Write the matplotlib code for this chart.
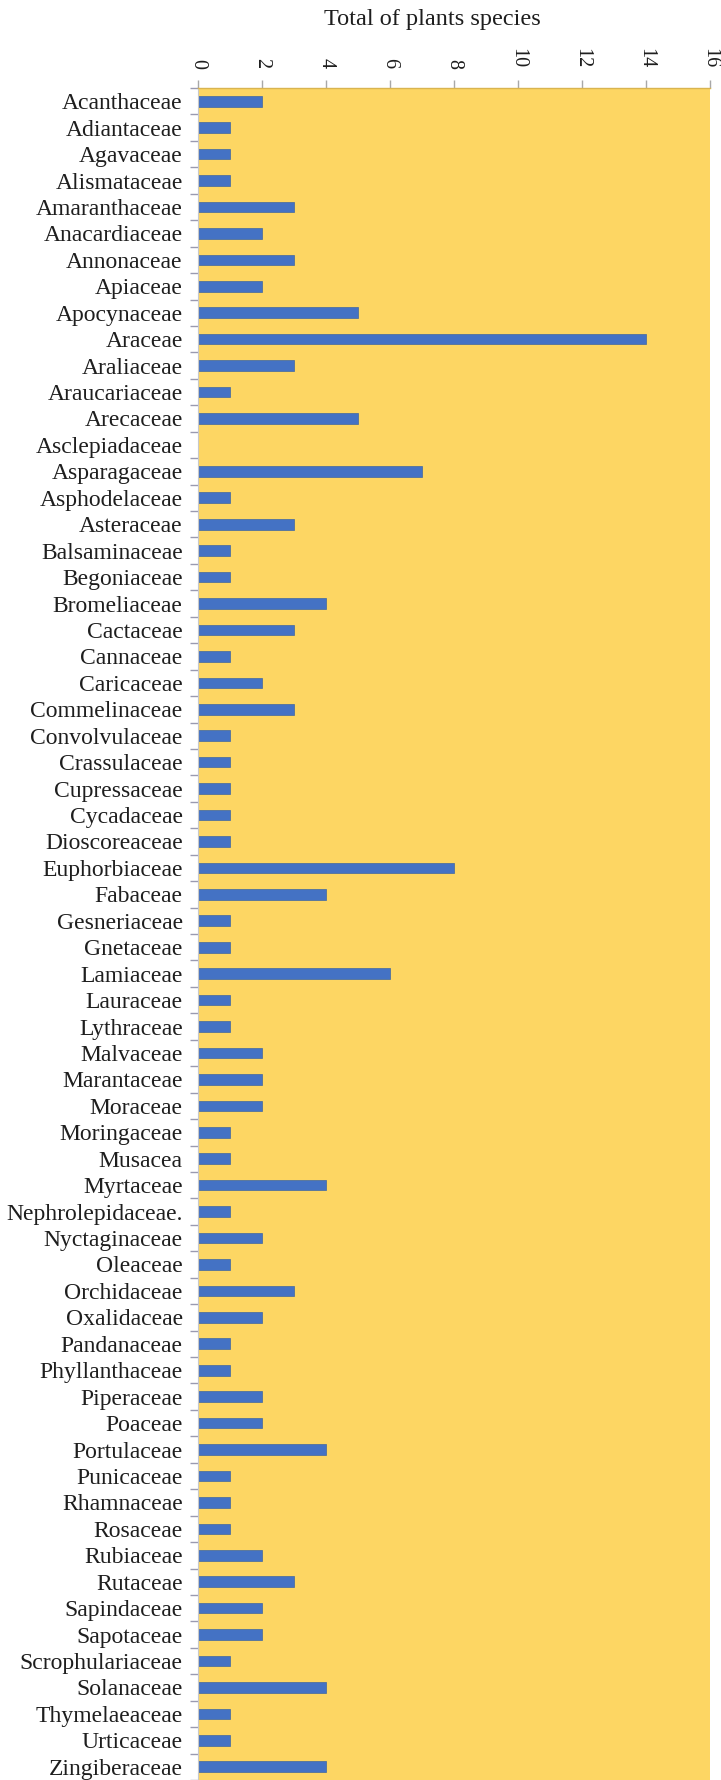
import matplotlib.pyplot as plt
import numpy as np

families = [
    "Acanthaceae", "Adiantaceae", "Agavaceae", "Alismataceae", "Amaranthaceae",
    "Anacardiaceae", "Annonaceae", "Apiaceae", "Apocynaceae", "Araceae",
    "Araliaceae", "Araucariaceae", "Arecaceae", "Asclepiadaceae", "Asparagaceae",
    "Asphodelaceae", "Asteraceae", "Balsaminaceae", "Begoniaceae", "Bromeliaceae",
    "Cactaceae", "Cannaceae", "Caricaceae", "Commelinaceae", "Convolvulaceae",
    "Crassulaceae", "Cupressaceae", "Cycadaceae", "Dioscoreaceae", "Euphorbiaceae",
    "Fabaceae", "Gesneriaceae", "Gnetaceae", "Lamiaceae", "Lauraceae",
    "Lythraceae", "Malvaceae", "Marantaceae", "Moraceae", "Moringaceae",
    "Musacea", "Myrtaceae", "Nephrolepidaceae.", "Nyctaginaceae", "Oleaceae",
    "Orchidaceae", "Oxalidaceae", "Pandanaceae", "Phyllanthaceae", "Piperaceae",
    "Poaceae", "Portulaceae", "Punicaceae", "Rhamnaceae", "Rosaceae",
    "Rubiaceae", "Rutaceae", "Sapindaceae", "Sapotaceae", "Scrophulariaceae",
    "Solanaceae", "Thymelaeaceae", "Urticaceae", "Zingiberaceae",
]
species = [
    2, 1, 1, 1, 3,
    2, 3, 2, 5, 14,
    3, 1, 5, 0, 7,
    1, 3, 1, 1, 4,
    3, 1, 2, 3, 1,
    1, 1, 1, 1, 8,
    4, 1, 1, 6, 1,
    1, 2, 2, 2, 1,
    1, 4, 1, 2, 1,
    3, 2, 1, 1, 2,
    2, 4, 1, 1, 1,
    2, 3, 2, 2, 1,
    4, 1, 1, 4,
]
x_ticks = [0, 2, 4, 6, 8, 10, 12, 14, 16]

plt.rcParams['font.family'] = ['Liberation Serif', 'DejaVu Serif']

fig = plt.figure(figsize=(7.21, 17.8), dpi=100)
ax = fig.add_axes([198 / 721, 0.0, 512 / 721, 1 - 88 / 1780])
ax.set_facecolor('#FDD663')

pos = np.arange(len(families))
ax.barh(pos, species, height=0.4, color='#4472C4', edgecolor='#41679F', linewidth=0.5)

ax.set_ylim(len(families) - 0.5, -0.5)
ax.set_xlim(0, 16)

# labels at the bar centres, tick marks on the category boundaries
ax.set_yticks(pos)
ax.set_yticklabels(families, fontsize=17, color='#1E1E1E')
ax.tick_params(axis='y', which='major', length=0, pad=11)
ax.set_yticks(np.arange(len(families) + 1) - 0.5, minor=True)
ax.tick_params(axis='y', which='minor', length=6, width=1, color='#9A9AB0', direction='out')

ax.xaxis.tick_top()
ax.set_xticks(x_ticks)
ax.set_xticklabels([str(t) for t in x_ticks], rotation=270, fontsize=14.5, color='#1E1E1E')
ax.tick_params(axis='x', length=6, width=1, color='#A8A8A8', pad=8)

for side in ['right', 'bottom']:
    ax.spines[side].set_visible(False)
ax.spines['top'].set_color('#D9B450')
ax.spines['left'].set_color('#C8C8C8')
ax.spines['top'].set_linewidth(1)
ax.spines['left'].set_linewidth(0.8)

fig.text(432 / 721, 1 - 20 / 1780, "Total of plants species", ha='center', va='center',
         fontsize=17.5, color='#1E1E1E')

fig.savefig("out.png", dpi=100)
plt.close(fig)
